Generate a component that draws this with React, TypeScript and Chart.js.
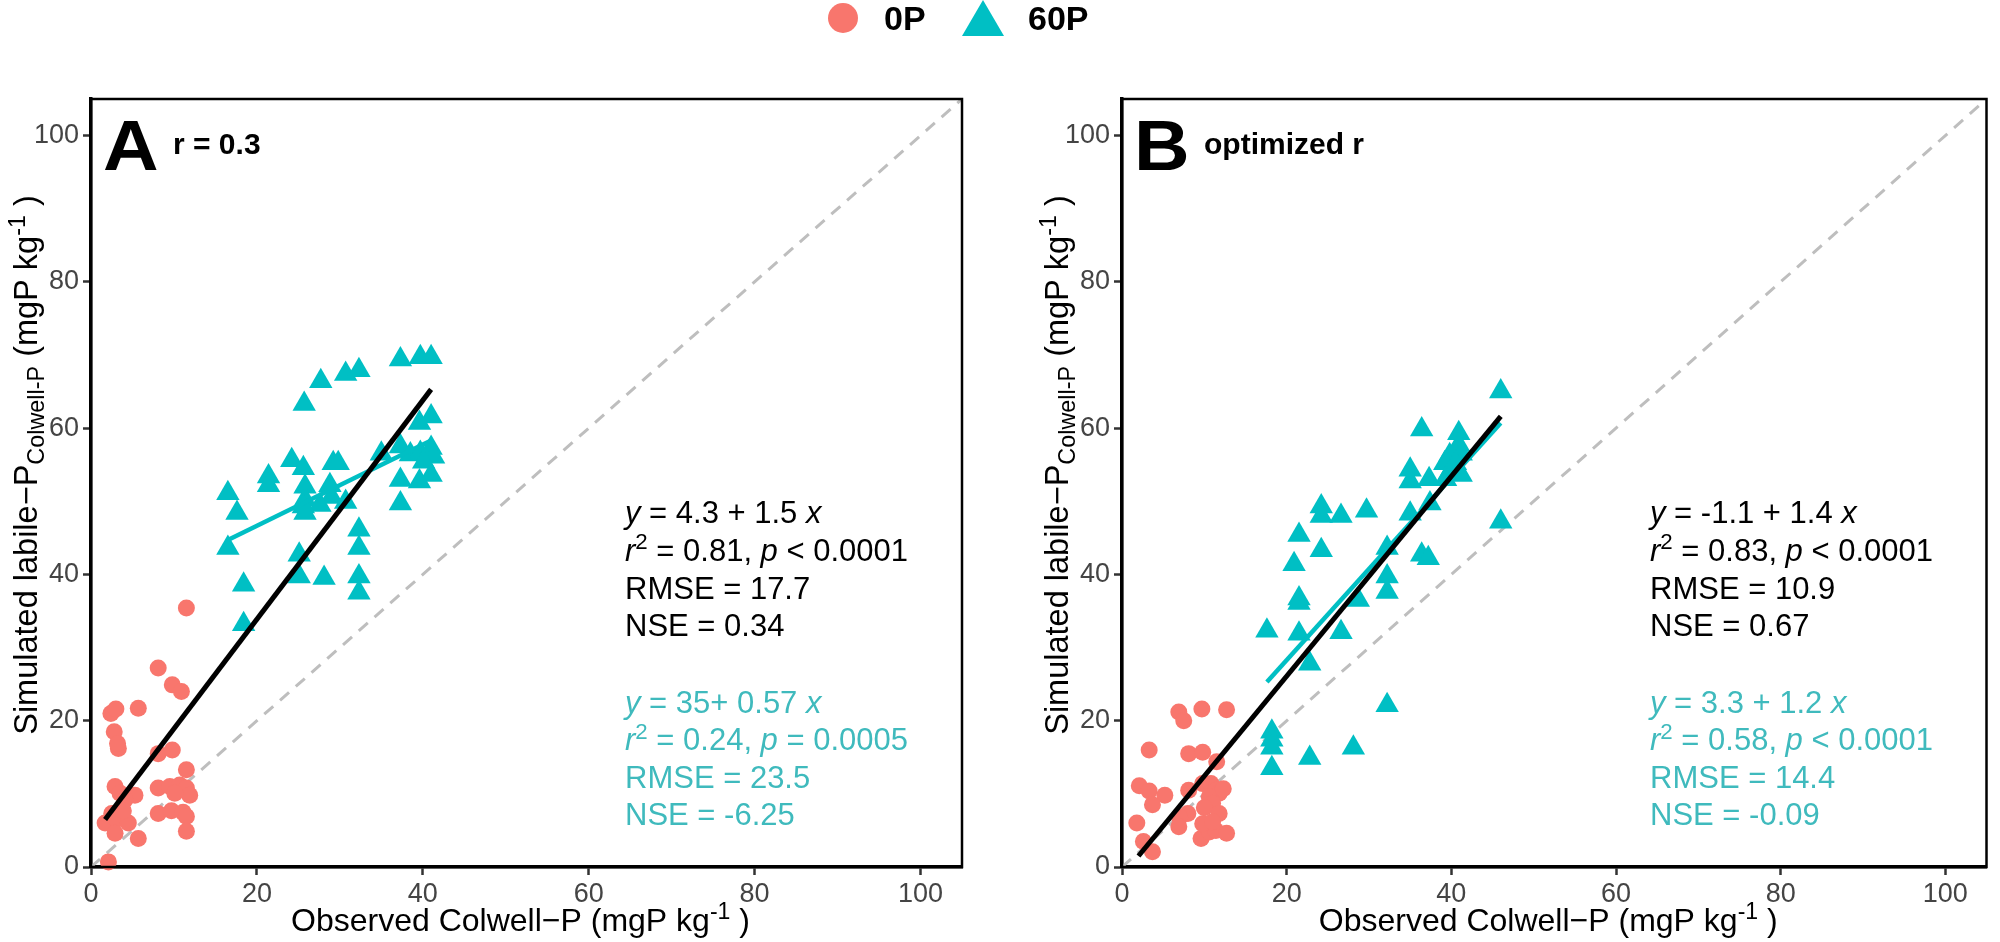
import React, { useEffect, useRef } from "react";
import { Chart, registerables } from "chart.js";

Chart.register(...registerables);

const FONT = "'Liberation Sans', Arial, Helvetica, sans-serif";
const SALMON = "#F8766D";
const TEAL = "#00BFC4";
const TEAL_TEXT = "#3FBABD";
const DASH_GREY = "#BEBEBE";

// ---- shared axes ----
const axisMin = 0;
const axisMax = 105;
const xTicks = [0, 20, 40, 60, 80, 100];
const yTicks = [0, 20, 40, 60, 80, 100];
const legendLabels = ["0P", "60P"];
const xTitle = "Observed Colwell\u2212P (mgP kg^-1^ )";
const yTitle = "Simulated labile\u2212P_Colwell-P_ (mgP kg^-1^ )";
const identityX = [0, 105];
const identityY = [0, 105];

// ---- Panel A : r = 0.3 ----
const panelATag = "A";
const panelATitle = "r = 0.3";
const a0Px = [11.5, 8.1, 9.8, 10.9, 2.4, 3.0, 5.7, 2.8, 3.3, 3.2, 8.1, 9.8, 11.5, 2.9, 3.5, 5.3, 4.1, 8.1, 9.5, 10.7, 11.5, 11.9, 10.1, 2.5, 1.7, 3.1, 4.5, 2.9, 3.9, 5.7, 8.1, 9.7, 11.1, 11.5, 11.5, 2.1];
const a0Py = [35.4, 27.2, 24.9, 24.0, 21.0, 21.6, 21.7, 18.5, 16.2, 16.9, 15.5, 16.0, 13.3, 11.0, 10.1, 9.8, 9.2, 10.8, 11.0, 11.2, 10.8, 9.8, 10.1, 7.3, 6.0, 6.5, 6.0, 4.6, 7.7, 3.9, 7.3, 7.7, 7.5, 6.9, 4.9, 0.7];
const a60Px = [37.3, 39.7, 41.0, 27.7, 30.7, 32.3, 25.7, 41.0, 39.6, 37.3, 35.0, 38.5, 39.7, 41.0, 41.3, 40.1, 37.3, 39.6, 41.0, 37.3, 24.2, 25.6, 29.2, 29.8, 21.4, 21.4, 16.5, 17.6, 25.8, 25.8, 25.8, 28.8, 29.0, 27.6, 30.7, 25.6, 32.3, 32.3, 16.5, 25.1, 18.4, 25.1, 28.1, 32.3, 32.3, 18.4];
const a60Py = [69.4, 69.7, 69.7, 66.4, 67.4, 67.9, 63.3, 61.6, 60.7, 57.5, 56.5, 56.4, 56.6, 57.3, 56.1, 55.4, 52.9, 52.7, 53.6, 49.7, 55.6, 54.5, 55.2, 55.2, 53.4, 52.2, 51.1, 48.4, 52.0, 48.4, 50.2, 52.2, 50.6, 49.5, 49.9, 49.3, 46.1, 43.6, 43.6, 42.7, 38.6, 39.7, 39.5, 39.7, 37.5, 33.2];
const aFitAllX = [1.7, 41.0];
const aFitAllY = [6.5, 65.3];
const aFit60X = [16.5, 41.0];
const aFit60Y = [44.7, 58.3];
const aStatsAll = ["*y* = 4.3 + 1.5 *x*", "*r*^2^ = 0.81, *p* < 0.0001", "RMSE = 17.7", "NSE = 0.34"];
const aStats60 = ["*y* = 35+ 0.57 *x*", "*r*^2^ = 0.24, *p* = 0.0005", "RMSE = 23.5", "NSE = -6.25"];

// ---- Panel B : optimized r ----
const panelBTag = "B";
const panelBTitle = "optimized r";
const b0Px = [6.9, 7.5, 9.7, 12.7, 3.3, 8.1, 9.8, 11.5, 2.1, 3.3, 5.2, 3.7, 1.8, 2.6, 3.7, 8.1, 9.8, 10.8, 11.4, 11.8, 10.6, 11.0, 10.0, 11.8, 12.3, 8.0, 7.0, 6.9, 9.6, 10.6, 11.4, 12.7, 9.8, 11.0];
const b0Py = [21.2, 20.0, 21.6, 21.5, 16.0, 15.5, 15.7, 14.4, 11.1, 10.4, 9.8, 8.5, 6.0, 3.5, 2.1, 10.5, 11.4, 11.4, 10.5, 10.1, 9.6, 8.7, 8.1, 7.3, 10.7, 7.3, 6.8, 5.5, 3.9, 4.8, 5.0, 4.6, 5.9, 6.2];
const b60Px = [46.0, 46.0, 36.4, 40.9, 40.9, 39.8, 41.2, 39.2, 40.5, 39.7, 41.2, 39.3, 35.0, 35.0, 37.3, 37.4, 35.0, 24.2, 24.2, 26.6, 29.7, 21.5, 24.2, 20.9, 21.5, 21.5, 28.7, 17.6, 21.5, 26.6, 22.8, 32.2, 18.2, 18.2, 18.2, 18.2, 22.8, 28.1, 32.2, 32.2, 32.2, 36.4, 37.2];
const b60Py = [65.0, 47.2, 59.8, 59.3, 57.7, 56.3, 56.5, 55.2, 55.2, 53.8, 53.6, 53.0, 54.3, 52.7, 53.0, 49.7, 48.3, 49.3, 48.0, 48.0, 48.7, 45.4, 43.3, 41.4, 36.7, 36.1, 36.5, 32.3, 31.9, 32.1, 27.8, 22.1, 18.5, 17.4, 16.3, 13.5, 14.9, 16.3, 39.7, 37.6, 43.6, 42.7, 42.2];
const bFitAllX = [2.0, 46.0];
const bFitAllY = [1.5, 61.6];
const bFit60X = [17.6, 46.0];
const bFit60Y = [25.3, 60.7];
const bStatsAll = ["*y* = -1.1 + 1.4 *x*", "*r*^2^ = 0.83, *p* < 0.0001", "RMSE = 10.9", "NSE = 0.67"];
const bStats60 = ["*y* = 3.3 + 1.2 *x*", "*r*^2^ = 0.58, *p* < 0.0001", "RMSE = 14.4", "NSE = -0.09"];

type Seg = { t: string; it: boolean; sup: boolean; sub: boolean };

function parseRich(s: string): Seg[] {
  const out: Seg[] = [];
  let it = false, sup = false, sub = false, cur = "";
  const push = () => { if (cur) out.push({ t: cur, it, sup, sub }); cur = ""; };
  for (const ch of s) {
    if (ch === "*") { push(); it = !it; }
    else if (ch === "^") { push(); sup = !sup; }
    else if (ch === "_") { push(); sub = !sub; }
    else cur += ch;
  }
  push();
  return out;
}

function drawRich(ctx: CanvasRenderingContext2D, s: string, x: number, y: number, size: number, color: string, align: "left" | "center" = "left", weight = "normal") {
  const segs = parseRich(s).map((g) => {
    const fs = g.sup || g.sub ? size * 0.72 : size;
    const font = `${g.it ? "italic " : ""}${weight} ${fs}px ${FONT}`;
    ctx.font = font;
    return { ...g, font, w: ctx.measureText(g.t).width };
  });
  const total = segs.reduce((a, g) => a + g.w, 0);
  let cx = align === "center" ? x - total / 2 : x;
  ctx.fillStyle = color;
  ctx.textAlign = "left";
  ctx.textBaseline = "alphabetic";
  for (const g of segs) {
    ctx.font = g.font;
    const dy = g.sup ? -size * 0.38 : g.sub ? size * 0.22 : 0;
    ctx.fillText(g.t, cx, y + dy);
    cx += g.w;
  }
}

const pts = (xs: number[], ys: number[]) => xs.map((x, i) => ({ x, y: ys[i] }));

type PanelCfg = {
  tag: string; title: string;
  p0x: number[]; p0y: number[]; p60x: number[]; p60y: number[];
  fAx: number[]; fAy: number[]; f6x: number[]; f6y: number[];
  statsAll: string[]; stats60: string[];
  leftWidth: number; rightPad: number; statsOffset: number;
};

function makeChart(canvas: HTMLCanvasElement, c: PanelCfg) {
  const panelPlugin = {
    id: "panelDecor",
    afterDraw(chart: any) {
      const ctx: CanvasRenderingContext2D = chart.ctx;
      const ca = chart.chartArea;
      ctx.save();
      ctx.strokeStyle = "#000";
      ctx.lineWidth = 2.5;
      ctx.strokeRect(ca.left, ca.top, ca.right - ca.left, ca.bottom - ca.top);
      // panel tag (slightly wide face) and title
      ctx.fillStyle = "#000";
      ctx.textAlign = "left";
      ctx.textBaseline = "alphabetic";
      ctx.save();
      ctx.translate(ca.left + 12, ca.top + 71);
      ctx.scale(1.1, 1);
      ctx.font = `bold 70px ${FONT}`;
      ctx.fillText(c.tag, 0, 0);
      ctx.restore();
      ctx.font = `bold 30px ${FONT}`;
      ctx.fillText(c.title, ca.left + 82, ca.top + 55);
      // statistics
      c.statsAll.forEach((l, i) => drawRich(ctx, l, ca.left + c.statsOffset, ca.top + 424 + i * 37.8, 31, "#000"));
      c.stats60.forEach((l, i) => drawRich(ctx, l, ca.left + c.statsOffset, ca.top + 614 + i * 37.4, 31, TEAL_TEXT));
      // axis titles
      drawRich(ctx, xTitle, (ca.left + ca.right) / 2 - 6, 931, 32, "#000", "center");
      ctx.save();
      ctx.translate(ca.left - 54, (ca.top + ca.bottom) / 2 - 18);
      ctx.rotate(-Math.PI / 2);
      drawRich(ctx, yTitle, 0, 0, 32.5, "#000", "center");
      ctx.restore();
      ctx.restore();
    },
  };

  const tickFont = { family: FONT, size: 27 };
  const grid = { display: true, drawOnChartArea: false, drawTicks: true, tickLength: 8, tickColor: "#333333", tickWidth: 2.5, color: "#333333" };
  const border = { display: true, color: "#000", width: 3.5 };

  return new Chart(canvas, {
    type: "scatter",
    data: {
      datasets: [
        { label: "fit all", data: pts(c.fAx, c.fAy), showLine: true, borderColor: "#000", borderWidth: 5, pointRadius: 0, order: 0 } as any,
        { label: "fit 60P", data: pts(c.f6x, c.f6y), showLine: true, borderColor: TEAL, borderWidth: 4.5, pointRadius: 0, order: 1 } as any,
        { label: legendLabels[1], data: pts(c.p60x, c.p60y), pointStyle: "triangle", pointRadius: 13.5, backgroundColor: TEAL, borderColor: TEAL, borderWidth: 0, order: 2, clip: false } as any,
        { label: legendLabels[0], data: pts(c.p0x, c.p0y), pointStyle: "circle", pointRadius: 8.5, backgroundColor: SALMON, borderColor: SALMON, borderWidth: 0, order: 3, clip: false } as any,
        { label: "1:1", data: pts(identityX, identityY), showLine: true, borderColor: DASH_GREY, borderWidth: 3, borderDash: [12, 9], pointRadius: 0, order: 4 } as any,
      ],
    },
    options: {
      responsive: false,
      animation: false,
      devicePixelRatio: 1,
      events: [],
      layout: { padding: { top: 99, right: c.rightPad, bottom: 0, left: 0 } },
      plugins: { legend: { display: false }, tooltip: { enabled: false }, title: { display: false } },
      scales: {
        x: {
          type: "linear", min: axisMin, max: axisMax,
          afterBuildTicks: (s: any) => { s.ticks = xTicks.map((v) => ({ value: v })); },
          afterFit: (s: any) => { s.height = 75; },
          grid, border,
          ticks: { font: tickFont, color: "#444444", padding: 3, maxRotation: 0, autoSkip: false },
        },
        y: {
          type: "linear", min: axisMin, max: axisMax,
          afterBuildTicks: (s: any) => { s.ticks = yTicks.map((v) => ({ value: v })); },
          afterFit: (s: any) => { s.width = c.leftWidth; },
          grid, border,
          ticks: { font: tickFont, color: "#444444", padding: 4, autoSkip: false },
        },
      },
    } as any,
    plugins: [panelPlugin],
  });
}

export default function App() {
  const refA = useRef<HTMLCanvasElement>(null);
  const refB = useRef<HTMLCanvasElement>(null);

  useEffect(() => {
    const chA = makeChart(refA.current!, {
      tag: panelATag, title: panelATitle,
      p0x: a0Px, p0y: a0Py, p60x: a60Px, p60y: a60Py,
      fAx: aFitAllX, fAy: aFitAllY, f6x: aFit60X, f6y: aFit60Y,
      statsAll: aStatsAll, stats60: aStats60,
      leftWidth: 91, rightPad: 38, statsOffset: 534,
    });
    const chB = makeChart(refB.current!, {
      tag: panelBTag, title: panelBTitle,
      p0x: b0Px, p0y: b0Py, p60x: b60Px, p60y: b60Py,
      fAx: bFitAllX, fAy: bFitAllY, f6x: bFit60X, f6y: bFit60Y,
      statsAll: bStatsAll, stats60: bStats60,
      leftWidth: 122, rightPad: 7, statsOffset: 528,
    });
    return () => { chA.destroy(); chB.destroy(); };
  }, []);

  return (
    <div style={{ position: "absolute", left: 0, top: 0, width: 2000, height: 942, background: "#fff", overflow: "hidden" }}>
      <canvas ref={refA} width={1000} height={942} style={{ position: "absolute", left: 0, top: 0, width: 1000, height: 942 }} />
      <canvas ref={refB} width={1000} height={942} style={{ position: "absolute", left: 1000, top: 0, width: 1000, height: 942 }} />
      <svg width={2000} height={60} style={{ position: "absolute", left: 0, top: 0 }}>
        <circle cx={843} cy={18} r={15} fill={SALMON} />
        <text x={884} y={30} fontFamily={FONT} fontWeight="bold" fontSize={34} fill="#000">{legendLabels[0]}</text>
        <polygon points="962,36 1004,36 983,0" fill={TEAL} />
        <text x={1028} y={30} fontFamily={FONT} fontWeight="bold" fontSize={34} fill="#000">{legendLabels[1]}</text>
      </svg>
    </div>
  );
}
